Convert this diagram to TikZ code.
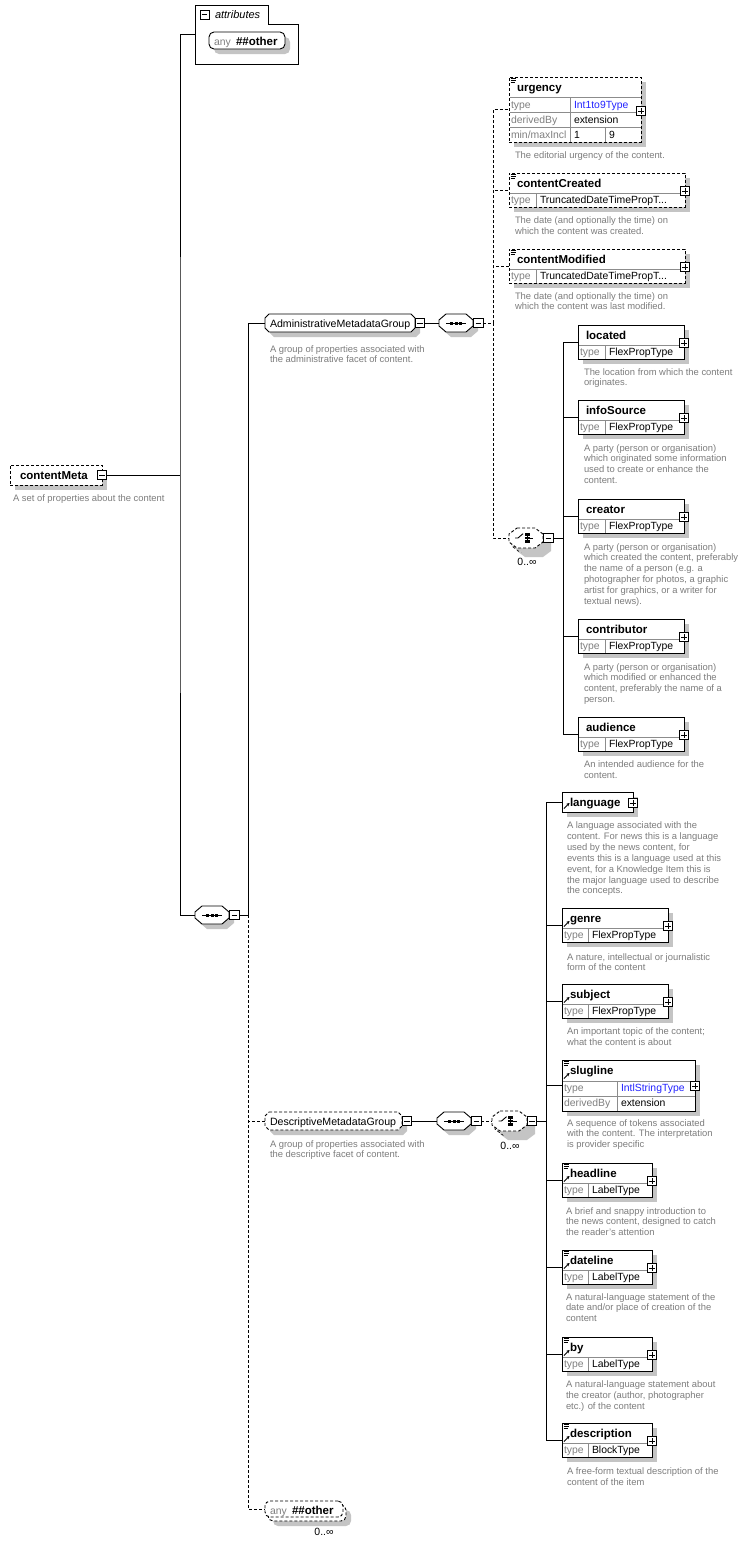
\documentclass[tikz,border=0pt]{standalone}
\usepackage{fontspec}
\setmainfont{Liberation Sans}
\usetikzlibrary{arrows.meta}
\definecolor{shd}{RGB}{196,196,196}
\definecolor{lblgray}{RGB}{128,128,128}
\definecolor{rowgray}{RGB}{140,140,140}
\definecolor{descgray}{RGB}{125,125,125}
\definecolor{tblue}{RGB}{35,35,255}
\tikzset{
  every node/.style={inner sep=0pt, outer sep=0pt},
  lw/.style={line width=0.9pt},
  mydash/.style={dash pattern=on 3pt off 2pt},
  ebox/.style={draw, lw, rectangle, fill=white, anchor=north west},
  debox/.style={ebox, mydash},
  rowln/.style={draw=rowgray, line width=0.8pt},
  nm/.style={anchor=base west, font=\fontsize{11.5}{13}\selectfont\bfseries},
  lbl/.style={anchor=base west, font=\fontsize{10.4}{12}\selectfont, text=lblgray},
  val/.style={anchor=base west, font=\fontsize{10.4}{12}\selectfont},
  grp/.style={anchor=base west, font=\fontsize{10.6}{12}\selectfont},
  dsc/.style={anchor=north west, align=left, font=\fontsize{9.4}{10.9}\selectfont, text=descgray},
  pmbox/.style={draw, line width=0.8pt, fill=white, minimum width=9.5pt, minimum height=9.5pt},
  conn/.style={lw},
  occ/.style={font=\fontsize{10.5}{12}\selectfont},
}
\newcommand\plusmark[1]{\draw[line width=0.8pt] ([xshift=-2.8pt]#1.center) -- ([xshift=2.8pt]#1.center) ([yshift=-2.8pt]#1.center) -- ([yshift=2.8pt]#1.center);}
\newcommand\minusmark[1]{\draw[line width=0.8pt] ([xshift=-2.8pt]#1.center) -- ([xshift=2.8pt]#1.center);}
\newcommand\simpico[2]{\draw[line width=0.6pt] (#1+1.5,#2+1.5) -- ++(5,0) (#1+1.5,#2+3.5) -- ++(5,0) (#1+1.5,#2+5.5) -- ++(4,0);}
\newcommand\refico[2]{\draw[line width=1pt,-{Stealth[length=3pt,width=3.2pt]}] (#1+2,#2+18.5) -- (#1+7.5,#2+13);}
% octagon path: #1 options, #2 x1, #3 y1, #4 x2, #5 y2, #6 cx, #7 cy
\newcommand\octdraw[7]{\path[#1] (#2+#6,#3) -- (#4-#6,#3) -- (#4,#3+#7) -- (#4,#5-#7) -- (#4-#6,#5) -- (#2+#6,#5) -- (#2,#5-#7) -- (#2,#3+#7) -- cycle;}
% named octagon with shadow: #1 options #2 id #3 x1 #4 y1 #5 x2 #6 y2 #7 cx #8 cy
\newcommand\octnode[8]{%
  \octdraw{fill=shd}{#3+5}{#4+5}{#5+5}{#6+5}{#7}{#8}
  \octdraw{draw, lw, fill=white, #1}{#3}{#4}{#5}{#6}{#7}{#8}
  \node[minimum width={(#5-#3)*1pt}, minimum height={(#6-#4)*1pt}] (#2) at ({(#3+#5)/2},{(#4+#6)/2}) {};
}
\newcommand\shbox[4]{\fill[shd] (#1+5,#2+5) rectangle (#1+#3+5,#2+#4+5);}
% #1 style #2 id #3 x #4 y #5 w #6 div #7 name #8 value
\newcommand\TEl[8]{%
  \shbox{#3}{#4}{#5}{34}
  \node[#1, minimum width=#5pt, minimum height=34pt] (#2) at (#3,#4) {};
  \draw[rowln] (#3+0.5,#4+20) -- (#3+#5-0.5,#4+20) (#3+#6,#4+20) -- (#3+#6,#4+33.5);
  \node[nm] (#2n) at (#3+8,#4+14.5) {#7};
  \node[lbl] (#2t) at (#3+2,#4+30.5) {type};
  \node[val] (#2v) at (#3+#6+4,#4+30.5) {#8};
  \node[pmbox] (#2p) at (#3+#5,#4+18) {};
  \plusmark{#2p}%
}
\newcommand\dsc[4]{\node[dsc] (#1) at (#2,#3-7.6) {\strut #4};}
% sequence icon at centre (#1,#2)
\newcommand\seqico[2]{%
  \draw[line width=0.9pt] (#1-10,#2) -- (#1+10,#2);
  \foreach \d in {-4.5,0,4.5} \fill (#1+\d-1.5,#2-1.5) rectangle (#1+\d+1.5,#2+1.5);
}
% choice icon at centre (#1,#2)
\newcommand\chico[2]{%
  \draw[line width=0.9pt] (#1-11,#2) -- (#1-8,#2) -- (#1-3,#2-4.3);
  \draw[line width=0.9pt] (#1+1.2,#2-4.6) -- (#1+1.2,#2+4.8);
  \foreach \d in {-3.4,0,3.4} \fill (#1-1.3,#2+\d-1.2) rectangle (#1+3.7,#2+\d+1.2);
  \draw[line width=0.9pt] (#1+3.7,#2) -- (#1+7,#2);
}
\begin{document}
\begin{tikzpicture}[x=1pt,y=-1pt]
\useasboundingbox (0,0) rectangle (747,1545);
\fill[white] (0,0) rectangle (747,1545);

% ---------------- attributes
\node[minimum width=103pt, minimum height=59pt, anchor=north west] (attr) at (195,5) {};
\draw[lw] (195,5) -- (268,5) -- (268,24) -- (298,24) -- (298,64) -- (195,64) -- cycle;
\node[pmbox, minimum width=9pt, minimum height=9pt] (attrm) at (204.5,14.5) {};
\minusmark{attrm}
\node[anchor=base west, font=\fontsize{11}{13}\selectfont\itshape] (attrt) at (215,18.5) {attributes};
\fill[shd, rounded corners=5pt] (214,37) rectangle (290,54);
\node[draw, lw, rounded corners=5pt, fill=white, minimum width=76pt, minimum height=17pt] (anyA) at (247,40.5) {};
\node[lbl] (anyAa) at (214,45) {any};
\node[nm] (anyAo) at (236,45) {\#\#other};

% ---------------- root
\shbox{10}{465}{92}{20}
\node[debox, minimum width=92pt, minimum height=20pt] (cm) at (10,465) {};
\node[nm] (cmn) at (20,479.5) {contentMeta};
\node[pmbox] (cmm) at (102,475) {};
\minusmark{cmm}
\dsc{d0}{13}{501}{A set of properties about the content}

\octnode{}{seq0}{195}{906}{229}{924}{7}{6}
\seqico{212}{915}
\node[pmbox] (seq0m) at (234.5,915) {};
\minusmark{seq0m}

\coordinate (J0) at (180,475);
\coordinate (J1) at (248,915);
\draw[conn] (cmm.east) -- (J0);
\draw[conn] (attr.west) -| (J0) |- (seq0.west);
\draw[conn] (seq0m.east) -- (J1);

% ---------------- administrative
\octnode{}{adm}{265}{314}{415}{332}{4}{4}
\node[grp] (admt) at (270,327) {AdministrativeMetadataGroup};
\node[pmbox] (admm) at (420,323) {};
\minusmark{admm}
\dsc{dadm}{270}{352}{A group of properties associated with\\the administrative facet of content.}
\octnode{}{seq1}{439}{314}{473}{332}{7}{6}
\seqico{456}{323}
\node[pmbox] (seq1m) at (478.5,323) {};
\minusmark{seq1m}
\draw[conn] (J1) |- (adm.west);
\draw[conn] (admm.east) -- (seq1.west);
\coordinate (J2) at (493,323);
\draw[conn, mydash] (seq1m.east) -- (J2);

% urgency
\shbox{509}{77}{132}{65}
\node[debox, minimum width=132pt, minimum height=65pt] (urg) at (509,77) {};
\draw[rowln] (509.5,97) -- (640.5,97) (509.5,112) -- (640.5,112) (509.5,127) -- (640.5,127) (570,97) -- (570,141.5) (605,127) -- (605,141.5);
\simpico{509}{77}
\node[nm] (urgn) at (517,91.5) {urgency};
\node[lbl] (urgt1) at (511,108) {type};
\node[val, text=tblue] (urgv1) at (574,108) {Int1to9Type};
\node[lbl] (urgt2) at (511,123) {derivedBy};
\node[val] (urgv2) at (574,123) {extension};
\node[lbl] (urgt3) at (511,138) {min/maxIncl};
\node[val] (urgv3) at (574,138) {1};
\node[val] (urgv4) at (609,138) {9};
\node[pmbox] (urgp) at (641,111) {};
\plusmark{urgp}
\dsc{durg}{515}{158.5}{The editorial urgency of the content.}

\TEl{debox}{cc}{509}{173}{176}{27}{contentCreated}{TruncatedDateTimePropT...}
\simpico{509}{173}
\dsc{dcc}{515}{223.5}{The date (and optionally the time) on\\which the content was created.}
\TEl{debox}{cmod}{509}{249}{176}{27}{contentModified}{TruncatedDateTimePropT...}
\simpico{509}{249}
\dsc{dcm}{515}{299}{The date (and optionally the time) on\\which the content was last modified.}

% choice 1
\octdraw{fill=shd}{512+5}{532+5}{546+5}{552+5}{8}{6}
\octdraw{draw, lw, mydash, fill=white}{512}{532}{546}{552}{8}{6}
\octnode{mydash}{ch1}{509}{528}{543}{548}{8}{6}
\chico{526}{538}
\node[pmbox] (ch1m) at (548.5,538) {};
\minusmark{ch1m}
\node[occ] (ch1o) at (527,562) {0..∞};
\draw[conn, mydash] (J2) |- (urg.west);
\draw[conn, mydash] (J2) |- (cc.west);
\draw[conn, mydash] (J2) |- (cmod.west);
\draw[conn, mydash] (J2) |- (ch1.west);
\coordinate (J3) at (563,538);
\draw[conn] (ch1m.east) -- (J3);

\TEl{ebox}{loc}{578}{325}{106}{27}{located}{FlexPropType}
\dsc{dloc}{584}{375}{The location from which the content\\originates.}
\TEl{ebox}{inf}{578}{400}{106}{27}{infoSource}{FlexPropType}
\dsc{dinf}{584}{451}{A party (person or organisation)\\which originated some information\\used to create or enhance the\\content.}
\TEl{ebox}{cre}{578}{499}{106}{27}{creator}{FlexPropType}
\dsc{dcre}{584}{550}{A party (person or organisation)\\which created the content, preferably\\the name of a person (e.g. a\\photographer for photos, a graphic\\artist for graphics, or a writer for\\textual news).}
\TEl{ebox}{con}{578}{619}{106}{27}{contributor}{FlexPropType}
\dsc{dcon}{584}{670}{A party (person or organisation)\\which modified or enhanced the\\content, preferably the name of a\\person.}
\TEl{ebox}{aud}{578}{717}{106}{27}{audience}{FlexPropType}
\dsc{daud}{584}{767.5}{An intended audience for the\\content.}
\foreach \n in {loc,inf,cre,con,aud} \draw[conn] (J3) |- (\n.west);

% ---------------- descriptive
\octnode{mydash}{desc}{265}{1112}{402}{1130}{4}{4}
\node[grp] (desct) at (270,1125) {DescriptiveMetadataGroup};
\node[pmbox] (descm) at (407,1121) {};
\minusmark{descm}
\dsc{ddesc}{270}{1147}{A group of properties associated with\\the descriptive facet of content.}
\octnode{}{seq2}{437}{1112}{471}{1130}{7}{6}
\seqico{454}{1121}
\node[pmbox] (seq2m) at (476.5,1121) {};
\minusmark{seq2m}
\octdraw{fill=shd}{495+5}{1115+5}{530+5}{1135+5}{8}{6}
\octdraw{draw, lw, mydash, fill=white}{495}{1115}{530}{1135}{8}{6}
\octnode{mydash}{ch2}{492}{1111}{527}{1131}{8}{6}
\chico{509.5}{1121}
\node[pmbox] (ch2m) at (532,1121) {};
\minusmark{ch2m}
\node[occ] (ch2o) at (510,1146) {0..∞};
\draw[conn, mydash] (J1) |- (desc.west);
\draw[conn] (descm.east) -- (seq2.west);
\draw[conn, mydash] (seq2m.east) -- (ch2.west);
\coordinate (J4) at (546,1121);
\draw[conn] (ch2m.east) -- (J4);

% language
\shbox{562}{792}{71}{20}
\node[ebox, minimum width=71pt, minimum height=20pt] (lang) at (562,792) {};
\refico{562}{790}
\node[nm] (langn) at (570,806.5) {language};
\node[pmbox] (langp) at (633,803) {};
\plusmark{langp}
\dsc{dlang}{567}{828.5}{A language associated with the\\content. For news this is a language\\used by the news content, for\\events this is a language used at this\\event, for a Knowledge Item this is\\the major language used to describe\\the concepts.}

\TEl{ebox}{gen}{562}{908}{106}{26}{genre}{FlexPropType}
\refico{562}{908}
\dsc{dgen}{567}{960}{A nature, intellectual or journalistic\\form of the content}
\TEl{ebox}{sub}{562}{984}{106}{26}{subject}{FlexPropType}
\refico{562}{984}
\dsc{dsub}{567}{1034.5}{An important topic of the content;\\what the content is about}

% slugline
\shbox{562}{1060}{133}{51}
\node[ebox, minimum width=133pt, minimum height=51pt] (slug) at (562,1060) {};
\draw[rowln] (562.5,1081) -- (694.5,1081) (562.5,1096) -- (694.5,1096) (617,1081) -- (617,1110.5);
\simpico{562}{1060}
\refico{562}{1060}
\node[nm] (slugn) at (570,1074.5) {slugline};
\node[lbl] (slugt1) at (564,1091.5) {type};
\node[val, text=tblue] (slugv1) at (621,1091.5) {IntlStringType};
\node[lbl] (slugt2) at (564,1106.5) {derivedBy};
\node[val] (slugv2) at (621,1106.5) {extension};
\node[pmbox] (slugp) at (695,1086) {};
\plusmark{slugp}
\dsc{dslug}{567}{1126}{A sequence of tokens associated\\with the content. The interpretation\\is provider specific}

\TEl{ebox}{head}{562}{1163}{90}{26}{headline}{LabelType}
\simpico{562}{1163}\refico{562}{1163}
\dsc{dhead}{566}{1214}{A brief and snappy introduction to\\the news content, designed to catch\\the reader's attention}
\TEl{ebox}{date}{562}{1250}{90}{26}{dateline}{LabelType}
\simpico{562}{1250}\refico{562}{1250}
\dsc{ddate}{566}{1300}{A natural-language statement of the\\date and/or place of creation of the\\content}
\TEl{ebox}{by}{562}{1337}{90}{26}{by}{LabelType}
\simpico{562}{1337}\refico{562}{1337}
\dsc{dby}{566}{1387.5}{A natural-language statement about\\the creator (author, photographer\\etc.) of the content}
\TEl{ebox}{descr}{562}{1423}{90}{26}{description}{BlockType}
\simpico{562}{1423}\refico{562}{1423}
\dsc{ddescr}{567}{1474.5}{A free-form textual description of the\\content of the item}
\foreach \n in {lang,gen,sub,slug,head,date,by,descr} \draw[conn] (J4) |- (\n.west);

% any ##other (bottom)
\fill[shd, rounded corners=5pt] (273,1510) rectangle (351,1526);
\draw[lw, mydash, rounded corners=5pt, fill=white] (268,1505) rectangle (346,1521);
\node[draw, lw, mydash, rounded corners=5pt, fill=white, minimum width=78pt, minimum height=16pt] (any2) at (304,1509) {};
\node[lbl] (any2a) at (270,1514) {any};
\node[nm] (any2o) at (292,1514) {\#\#other};
\node[occ] (any2oc) at (324,1532) {0..∞};
\draw[conn, mydash] (J1) |- (any2.west);
\end{tikzpicture}
\end{document}
